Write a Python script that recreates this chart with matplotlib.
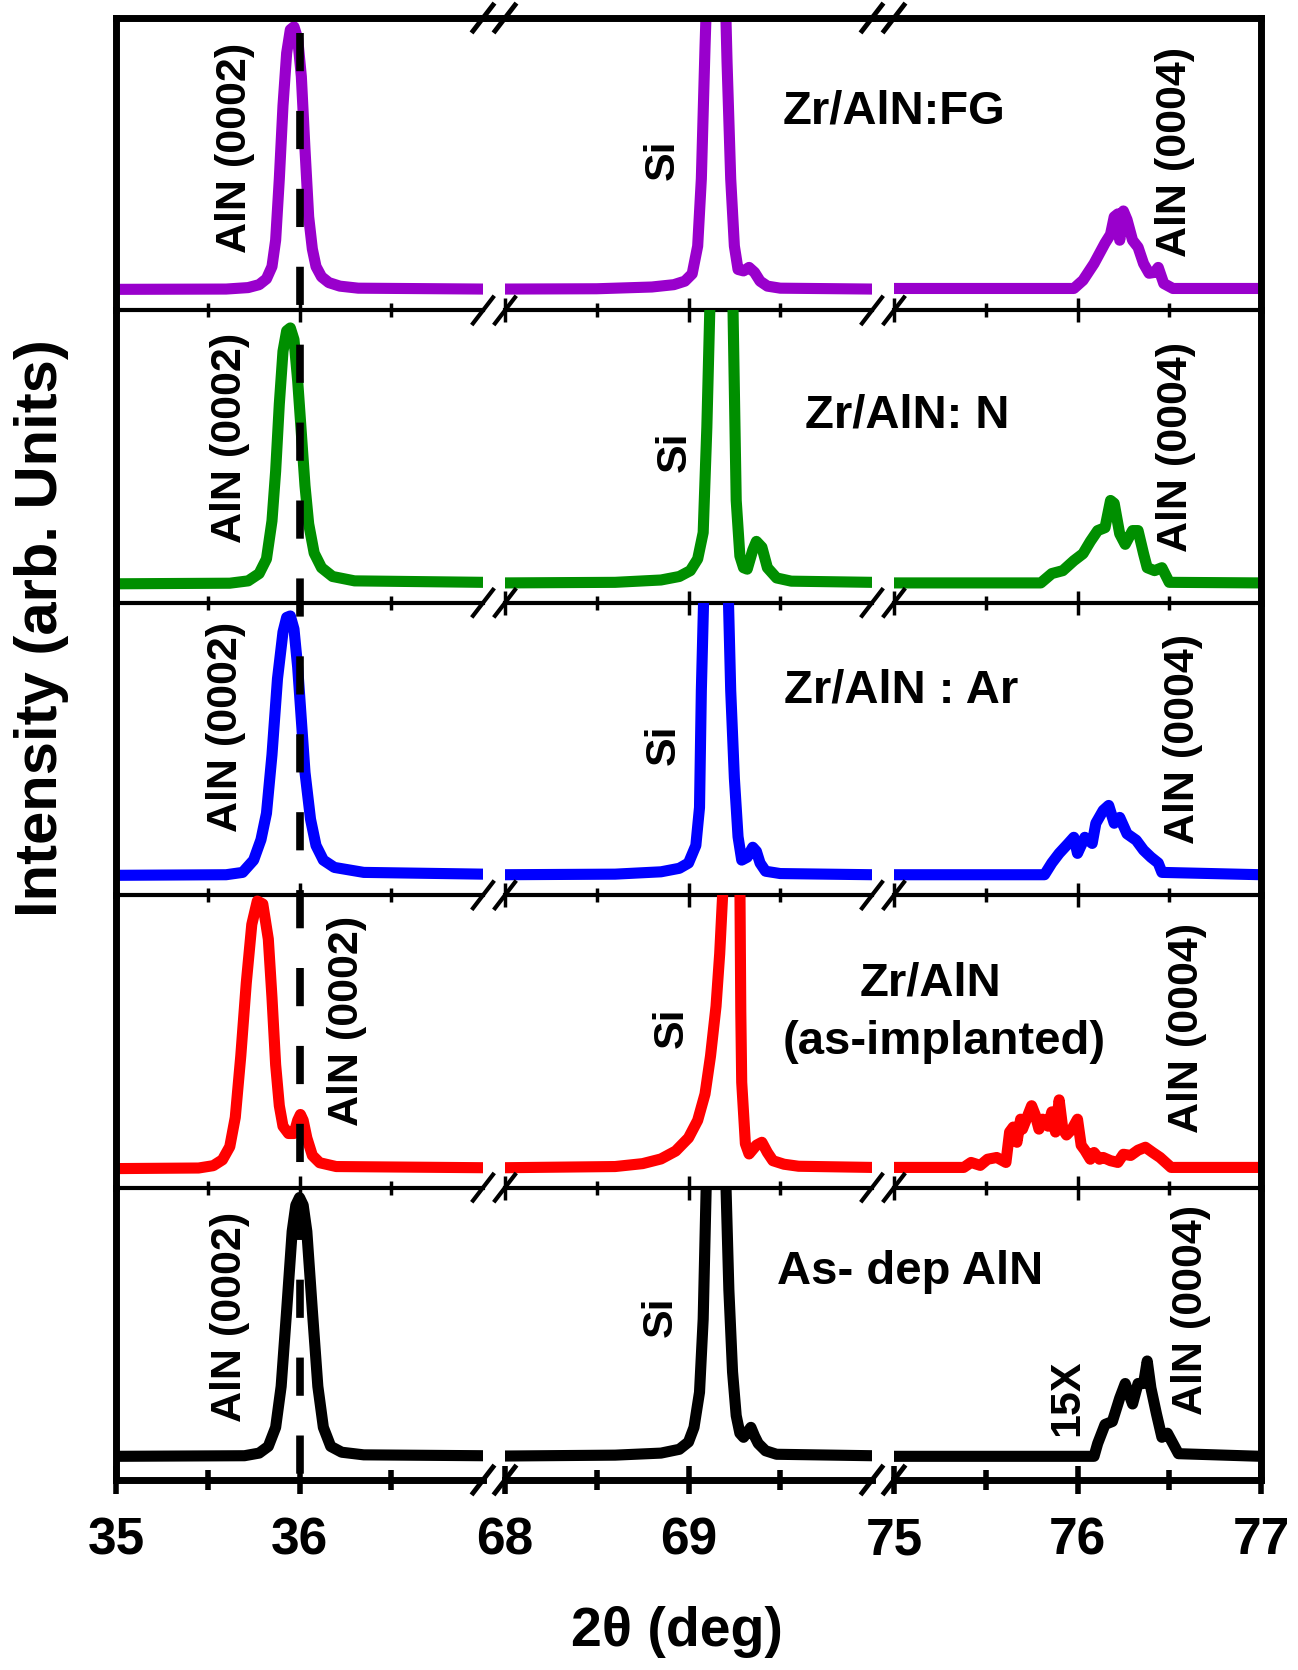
import matplotlib
matplotlib.use("Agg")
import matplotlib.pyplot as plt
import matplotlib.transforms as mtransforms
from matplotlib.lines import Line2D
from matplotlib.ticker import FixedLocator

plt.rcParams["font.family"] = ["Liberation Sans", "DejaVu Sans"]
plt.rcParams["font.weight"] = "bold"

# ---- data (2theta in deg, intensity in arb. units, each panel 0-100) ----
fg_x = [35.0, 35.6, 35.72, 35.78, 35.82, 35.85, 35.87, 35.89, 35.91, 35.93, 35.95, 35.97,
        35.99, 36.01, 36.03, 36.05, 36.07, 36.09, 36.12, 36.16, 36.22, 36.32, 37.0,
        68.0, 68.5, 68.8, 68.92, 68.98, 69.02, 69.05, 69.07, 69.09, 69.10, 69.15, 69.20,
        69.21, 69.23, 69.25, 69.27, 69.30, 69.33, 69.36, 69.39, 69.43, 69.5, 70.0,
        75.0, 75.98, 76.03, 76.09, 76.12, 76.15, 76.18, 76.20, 76.22, 76.23, 76.25, 76.27,
        76.30, 76.33, 76.36, 76.39, 76.42, 76.44, 76.47, 76.52, 77.0]
fg_y = [7.2, 7.3, 7.8, 8.8, 10.8, 15, 24, 45, 70, 88, 96, 97,
        93, 80, 55, 32, 21, 15, 11.5, 9.5, 8.3, 7.6, 7.3,
        7.3, 7.4, 8.0, 8.8, 10, 12.5, 22, 45, 90, 110, 400, 110,
        85, 45, 22, 14, 13.5, 14.7, 13, 10, 8.3, 7.6, 7.3,
        7.5, 7.5, 10.3, 16, 19.5, 23, 26, 32, 33, 24, 34, 31,
        24, 21.6, 16, 12.7, 13, 14.7, 9.2, 7.5, 7.5]

n_x = [35.0, 35.62, 35.72, 35.78, 35.82, 35.85, 35.87, 35.89, 35.91, 35.93, 35.95, 35.97,
       35.99, 36.01, 36.03, 36.05, 36.08, 36.12, 36.18, 36.30, 37.0,
       68.0, 68.6, 68.85, 68.95, 69.01, 69.05, 69.08, 69.10, 69.12, 69.18, 69.24, 69.26,
       69.28, 69.30, 69.32, 69.35, 69.37, 69.40, 69.43, 69.48, 69.56, 70.0,
       75.0, 75.80, 75.86, 75.92, 75.98, 76.03, 76.07, 76.11, 76.15, 76.18, 76.20, 76.23,
       76.26, 76.30, 76.33, 76.36, 76.38, 76.42, 76.46, 76.50, 77.0]
n_y = [6.5, 6.7, 7.5, 10, 15, 28, 45, 68, 86, 93, 94, 90,
       76, 58, 40, 27, 17, 12, 9, 7.5, 7.0,
       6.8, 7.0, 7.8, 9, 11, 15, 24, 60, 110, 400, 110, 35,
       16, 12, 11.5, 18, 21, 19, 12, 8.5, 7.4, 7.0,
       6.8, 6.8, 10, 11, 14.4, 16.8, 21, 24.7, 25.7, 35, 34, 23.6,
       20, 24.7, 24.7, 16.8, 12, 11, 12, 7.0, 6.8]

ar_x = [35.0, 35.6, 35.69, 35.75, 35.79, 35.82, 35.85, 35.88, 35.91, 35.93, 35.95, 35.97,
        35.99, 36.01, 36.03, 36.06, 36.09, 36.13, 36.19, 36.35, 37.0,
        68.0, 68.6, 68.85, 68.95, 69.0, 69.04, 69.06, 69.07, 69.09, 69.15, 69.21, 69.23,
        69.25, 69.27, 69.29, 69.32, 69.35, 69.37, 69.39, 69.42, 69.5, 70.0,
        75.0, 75.82, 75.86, 75.90, 75.95, 75.98, 76.0, 76.04, 76.08, 76.10, 76.14, 76.17,
        76.20, 76.23, 76.27, 76.32, 76.36, 76.40, 76.44, 76.46, 77.0]
ar_y = [6.8, 7.0, 7.8, 12, 19, 28, 48, 74, 90, 95, 95.5, 91,
        78, 60, 42, 26, 17, 12, 9.5, 7.8, 7.2,
        7.0, 7.2, 8.0, 9.2, 11, 17, 30, 70, 120, 400, 120, 70,
        40, 20, 12, 13, 16.4, 15, 11, 8.2, 7.4, 7.0,
        7.0, 7.0, 11, 14.3, 17.7, 19.8, 14.3, 19.8, 17.7, 24.6, 29, 30.7,
        24.6, 26.6, 21, 18.8, 15.4, 13, 11, 7.8, 7.0]

imp_x = [35.0, 35.45, 35.53, 35.58, 35.62, 35.65, 35.68, 35.71, 35.74, 35.77, 35.80, 35.83,
         35.85, 35.87, 35.89, 35.91, 35.94, 35.97, 35.99, 36.005, 36.02, 36.04, 36.07, 36.11,
         36.2, 37.0,
         68.0, 68.6, 68.75, 68.85, 68.93, 69.0, 69.05, 69.09, 69.12, 69.15, 69.17, 69.19,
         69.235, 69.28, 69.285, 69.29, 69.31, 69.33, 69.35, 69.37, 69.40, 69.43, 69.46, 69.52,
         69.6, 70.0,
         75.0, 75.38, 75.42, 75.47, 75.51, 75.56, 75.61, 75.63, 75.65, 75.67, 75.69, 75.70,
         75.73, 75.75, 75.77, 75.79, 75.81, 75.84, 75.86, 75.88, 75.90, 75.92, 75.94, 75.97,
         76.00, 76.02, 76.04, 76.07, 76.09, 76.12, 76.14, 76.18, 76.22, 76.25, 76.29, 76.33,
         76.37, 76.41, 76.45, 76.51, 77.0]
imp_y = [6.5, 6.7, 7.5, 9.5, 14, 24, 45, 70, 90, 98, 97, 85,
         65, 42, 28, 21, 18.5, 18.5, 23, 25, 23, 17, 11, 8.5,
         7.2, 6.8,
         6.8, 7.2, 8.2, 9.8, 12.5, 17, 23, 32, 45, 62, 80, 105,
         140, 105, 60, 36, 15, 11.5, 13, 14.5, 15.5, 12, 9.2, 8,
         7.3, 6.9,
         6.9, 6.9, 8.6, 7.6, 9.7, 10.3, 8.6, 19, 20.7, 15.5, 23.4, 20,
         24.8, 28, 24.8, 20, 23.4, 21, 25.9, 19, 30, 20, 18, 20,
         23.4, 14.5, 12.8, 9.7, 12, 9.7, 10.3, 9.2, 8.6, 11.4, 11, 12.8,
         13.8, 12, 10.3, 6.9, 6.9]

dep_x = [35.0, 35.7, 35.78, 35.83, 35.87, 35.90, 35.93, 35.96, 35.98, 36.0, 36.02, 36.04,
         36.07, 36.10, 36.13, 36.17, 36.23, 36.35, 37.0,
         68.0, 68.6, 68.85, 68.95, 69.0, 69.03, 69.06, 69.08, 69.10, 69.15, 69.20, 69.22,
         69.24, 69.26, 69.28, 69.30, 69.34, 69.36, 69.38, 69.42, 69.48, 70.0,
         75.0, 76.09, 76.11, 76.15, 76.19, 76.23, 76.26, 76.30, 76.33, 76.36, 76.38, 76.40,
         76.43, 76.46, 76.49, 76.52, 76.55, 77.0]
dep_y = [8.1, 8.3, 9.2, 11.5, 18, 32, 58, 85, 94, 96.6, 94, 85,
         58, 32, 18, 11.5, 9.5, 8.6, 8.3,
         8.2, 8.5, 9.2, 10.5, 13, 18, 30, 55, 110, 400, 110, 65,
         37, 22, 16, 14.6, 18, 15, 12.5, 10, 8.8, 8.3,
         8.1, 8.1, 12.5, 19, 20, 28, 33, 26, 33, 33, 40.7, 31.5,
         22.7, 14.6, 16, 12.5, 9, 8.1]

ref_line_x = 36.0   # dashed reference line

panels = [(fg_x, fg_y, "#9900CC"),
          (n_x, n_y, "#008F00"),
          (ar_x, ar_y, "#0000FF"),
          (imp_x, imp_y, "#FF0000"),
          (dep_x, dep_y, "#000000")]

seg_ranges = [(35, 37), (68, 70), (75, 77)]
seg_major = [[35, 36], [68, 69], [75, 76, 77]]
seg_minor = [[35.5, 36.5], [68.5, 69.5], [75.5, 76.5]]

# ---- layout in pixels ----
W, H = 1298, 1670
seg_left = [116, 505, 894]
seg_w = 367
top_px, bot_px = 18, 1480
panel_h = (bot_px - top_px) / 5


def fx(px):
    return px / W


def fy(py):
    return 1 - py / H


fig = plt.figure(figsize=(W / 100, H / 100), dpi=100)

axes = []
for p, (xs, ys, col) in enumerate(panels):
    y_bot = top_px + (p + 1) * panel_h
    row = []
    for s in range(3):
        ax = fig.add_axes([fx(seg_left[s]), fy(y_bot), seg_w / W, panel_h / H])
        ax.patch.set_visible(False)
        ax.plot(xs, ys, color=col, lw=8, solid_joinstyle="round", solid_capstyle="butt")
        ax.set_xlim(*seg_ranges[s])
        ax.set_ylim(0, 100)
        ax.set_yticks([])
        ax.spines["left"].set_visible(s == 0)
        ax.spines["right"].set_visible(s == 2)
        ax.spines["top"].set_visible(p == 0)
        for side in ["left", "right", "top"]:
            ax.spines[side].set_linewidth(5)
        last = p == 4
        ax.spines["bottom"].set_linewidth(5 if last else 3)
        ax.xaxis.set_major_locator(FixedLocator(seg_major[s]))
        ax.xaxis.set_minor_locator(FixedLocator(seg_minor[s]))
        ax.tick_params(axis="x", which="major", direction="inout",
                       length=20 if last else 17, width=4 if last else 2.5,
                       labelbottom=last, labelsize=37, pad=16)
        ax.tick_params(axis="x", which="minor", direction="inout",
                       length=14 if last else 10, width=4 if last else 2.5)
        for lab in ax.get_xticklabels():
            lab.set_fontweight("bold")
        row.append(ax)
    axes.append(row)

# ---- axis break marks ----
break_px = [seg_left[0] + seg_w, seg_left[1], seg_left[1] + seg_w, seg_left[2]]
spine_rows = [top_px] + [top_px + (p + 1) * panel_h for p in range(5)]
for i, yb in enumerate(spine_rows):
    lw = 3 if 0 < i < 5 else 3.5
    for xb in break_px:
        fig.add_artist(Line2D([fx(xb - 10), fx(xb + 10)], [fy(yb + 13), fy(yb - 13)],
                              color="black", lw=lw))
# top frame continues across the gaps
for a, b in [(break_px[0], break_px[1]), (break_px[2], break_px[3])]:
    fig.add_artist(Line2D([fx(a), fx(b)], [fy(top_px), fy(top_px)], color="black", lw=5))

# ---- dashed reference line at 36 deg through all panels ----
trans = mtransforms.blended_transform_factory(axes[4][0].transData, fig.transFigure)
fig.add_artist(Line2D([ref_line_x, ref_line_x], [fy(33), fy(1478)], transform=trans,
                      color="black", lw=5.5, linestyle=(0, (5, 5.2)), zorder=5))

# ---- annotations ----
rot_kw = dict(rotation=90, ha="center", va="center", fontsize=31, fontweight="bold")
hor_kw = dict(ha="center", va="center", fontsize=34, fontweight="bold")

rot_labels = [
    ("AlN (0002)", 235, 148), ("Si", 663, 160), ("AlN (0004)", 1175, 152),
    ("AlN (0002)", 230, 438), ("Si", 675, 452), ("AlN (0004)", 1176, 447),
    ("AlN (0002)", 226, 727), ("Si", 664, 745), ("AlN (0004)", 1183, 739),
    ("AlN (0002)", 347, 1021), ("Si", 672, 1028), ("AlN (0004)", 1187, 1028),
    ("AlN (0002)", 230, 1317), ("Si", 661, 1317), ("AlN (0004)", 1191, 1310),
    ("15X", 1067, 1398),
]
for txt, px, py in rot_labels:
    fig.text(fx(px), fy(py), txt, **rot_kw)

hor_labels = [
    ("Zr/AlN:FG", 894, 112), ("Zr/AlN: N", 907, 416), ("Zr/AlN : Ar", 901, 690),
    ("Zr/AlN", 930, 983), ("(as-implanted)", 944, 1042), ("As- dep AlN", 910, 1272),
]
for txt, px, py in hor_labels:
    fig.text(fx(px), fy(py), txt, **hor_kw)

fig.text(fx(677), fy(1632), "2θ (deg)", ha="center", va="center", fontsize=40,
         fontweight="bold")
fig.text(fx(42), fy(628), "Intensity (arb. Units)", rotation=90, ha="center",
         va="center", fontsize=43, fontweight="bold")

plt.savefig("out.png", dpi=100)
